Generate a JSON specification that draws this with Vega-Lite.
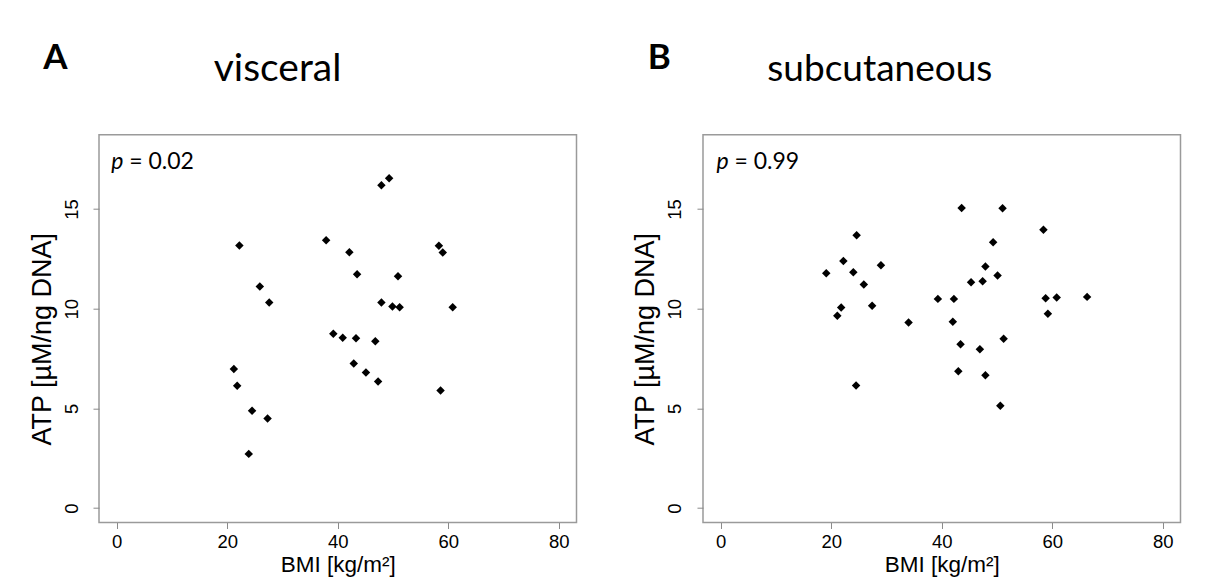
{
  "$schema": "https://vega.github.io/schema/vega-lite/v6.json",
  "autosize": {"type": "none"},
  "padding": {"left": 99, "top": 134.7, "right": 1116, "bottom": 452.3},
  "background": "white",
  "datasets": {
    "visceral": [
      {"bmi": 22.2, "atp": 13.16}, {"bmi": 25.9, "atp": 11.11}, {"bmi": 27.6, "atp": 10.31},
      {"bmi": 21.2, "atp": 6.97}, {"bmi": 21.8, "atp": 6.13}, {"bmi": 24.5, "atp": 4.88},
      {"bmi": 27.3, "atp": 4.49}, {"bmi": 23.9, "atp": 2.72}, {"bmi": 37.9, "atp": 13.43},
      {"bmi": 42.1, "atp": 12.83}, {"bmi": 43.5, "atp": 11.73}, {"bmi": 47.9, "atp": 16.19},
      {"bmi": 49.3, "atp": 16.54}, {"bmi": 50.9, "atp": 11.63}, {"bmi": 47.9, "atp": 10.31},
      {"bmi": 49.9, "atp": 10.11}, {"bmi": 51.2, "atp": 10.07}, {"bmi": 39.2, "atp": 8.74},
      {"bmi": 40.9, "atp": 8.54}, {"bmi": 43.3, "atp": 8.52}, {"bmi": 46.8, "atp": 8.37},
      {"bmi": 42.9, "atp": 7.25}, {"bmi": 45.1, "atp": 6.80}, {"bmi": 47.3, "atp": 6.35},
      {"bmi": 58.3, "atp": 13.15}, {"bmi": 59.0, "atp": 12.81}, {"bmi": 60.8, "atp": 10.07},
      {"bmi": 58.6, "atp": 5.90}
    ],
    "subcutaneous": [
      {"bmi": 19.1, "atp": 11.78}, {"bmi": 22.2, "atp": 12.39}, {"bmi": 24.0, "atp": 11.83},
      {"bmi": 24.6, "atp": 13.68}, {"bmi": 25.9, "atp": 11.21}, {"bmi": 29.0, "atp": 12.18},
      {"bmi": 21.8, "atp": 10.06}, {"bmi": 21.1, "atp": 9.65}, {"bmi": 27.4, "atp": 10.14},
      {"bmi": 24.5, "atp": 6.15}, {"bmi": 34.0, "atp": 9.30}, {"bmi": 39.3, "atp": 10.49},
      {"bmi": 42.2, "atp": 10.49}, {"bmi": 42.0, "atp": 9.34}, {"bmi": 43.6, "atp": 15.05},
      {"bmi": 51.0, "atp": 15.03}, {"bmi": 49.3, "atp": 13.33}, {"bmi": 47.9, "atp": 12.11},
      {"bmi": 45.3, "atp": 11.32}, {"bmi": 47.4, "atp": 11.37}, {"bmi": 50.1, "atp": 11.66},
      {"bmi": 43.4, "atp": 8.22}, {"bmi": 46.9, "atp": 7.97}, {"bmi": 51.2, "atp": 8.49},
      {"bmi": 43.0, "atp": 6.86}, {"bmi": 47.9, "atp": 6.66}, {"bmi": 50.6, "atp": 5.13},
      {"bmi": 58.4, "atp": 13.96}, {"bmi": 58.8, "atp": 10.52}, {"bmi": 60.8, "atp": 10.56},
      {"bmi": 59.2, "atp": 9.74}, {"bmi": 66.3, "atp": 10.59}
    ]
  },
  "spacing": 126,
  "bounds": "flush",
  "hconcat": [
    {
      "width": 477.5,
      "height": 387.8,
      "layer": [
        {
          "data": {"name": "visceral"},
          "mark": {"type": "point", "shape": "diamond", "filled": true, "color": "black", "opacity": 1, "size": 72},
          "encoding": {
            "x": {"field": "bmi", "type": "quantitative", "scale": {"domain": [-3.2, 83.2], "nice": false, "zero": false},
                  "axis": {"title": "BMI [kg/m²]", "values": [0, 20, 40, 60, 80]}},
            "y": {"field": "atp", "type": "quantitative", "scale": {"domain": [-0.72, 18.72], "nice": false, "zero": false},
                  "axis": {"title": "ATP [µM/ng DNA]", "values": [0, 5, 10, 15]}}
          }
        },
        {
          "data": {"values": [{}]},
          "mark": {"type": "text", "text": "p", "font": "Lato", "fontStyle": "italic", "fontSize": 23, "align": "left", "baseline": "alphabetic", "color": "black"},
          "encoding": {"x": {"datum": -1.0}, "y": {"datum": 17.0}}
        },
        {
          "data": {"values": [{}]},
          "mark": {"type": "text", "text": "= 0.02", "font": "Lato", "fontSize": 23, "align": "left", "baseline": "alphabetic", "dx": 18, "color": "black"},
          "encoding": {"x": {"datum": -1.0}, "y": {"datum": 17.0}}
        },
        {
          "data": {"values": [{}]},
          "mark": {"type": "text", "text": "A", "font": "Lato", "fontWeight": "bold", "fontSize": 35, "align": "left", "baseline": "alphabetic", "color": "black"},
          "encoding": {"x": {"datum": -13.3}, "y": {"datum": 22.0}}
        },
        {
          "data": {"values": [{}]},
          "mark": {"type": "text", "text": "visceral", "font": "Lato", "fontSize": 39, "align": "center", "baseline": "alphabetic", "color": "black"},
          "encoding": {"x": {"datum": 29.1}, "y": {"datum": 21.4}}
        }
      ]
    },
    {
      "width": 477.5,
      "height": 387.8,
      "layer": [
        {
          "data": {"name": "subcutaneous"},
          "mark": {"type": "point", "shape": "diamond", "filled": true, "color": "black", "opacity": 1, "size": 72},
          "encoding": {
            "x": {"field": "bmi", "type": "quantitative", "scale": {"domain": [-3.2, 83.2], "nice": false, "zero": false},
                  "axis": {"title": "BMI [kg/m²]", "values": [0, 20, 40, 60, 80]}},
            "y": {"field": "atp", "type": "quantitative", "scale": {"domain": [-0.72, 18.72], "nice": false, "zero": false},
                  "axis": {"title": "ATP [µM/ng DNA]", "values": [0, 5, 10, 15]}}
          }
        },
        {
          "data": {"values": [{}]},
          "mark": {"type": "text", "text": "p", "font": "Lato", "fontStyle": "italic", "fontSize": 23, "align": "left", "baseline": "alphabetic", "color": "black"},
          "encoding": {"x": {"datum": -0.75}, "y": {"datum": 17.0}}
        },
        {
          "data": {"values": [{}]},
          "mark": {"type": "text", "text": "= 0.99", "font": "Lato", "fontSize": 23, "align": "left", "baseline": "alphabetic", "dx": 18, "color": "black"},
          "encoding": {"x": {"datum": -0.75}, "y": {"datum": 17.0}}
        },
        {
          "data": {"values": [{}]},
          "mark": {"type": "text", "text": "B", "font": "Lato", "fontWeight": "bold", "fontSize": 35, "align": "left", "baseline": "alphabetic", "color": "black"},
          "encoding": {"x": {"datum": -13.2}, "y": {"datum": 22.0}}
        },
        {
          "data": {"values": [{}]},
          "mark": {"type": "text", "text": "subcutaneous", "font": "Lato", "fontSize": 37, "align": "center", "baseline": "alphabetic", "color": "black"},
          "encoding": {"x": {"datum": 28.8}, "y": {"datum": 21.4}}
        }
      ]
    }
  ],
  "config": {
    "font": "Liberation Sans",
    "view": {"stroke": "#9a9a9a", "strokeWidth": 1.5},
    "axis": {"grid": false, "domain": false, "tickColor": "#8a8a8a", "tickWidth": 1, "tickSize": 6,
             "labelFont": "Liberation Sans", "labelFontSize": 18.5, "labelColor": "black",
             "titleFont": "Liberation Sans", "titleFontSize": 22.5, "titleFontWeight": "normal", "titleColor": "black"},
    "axisX": {"labelPadding": 4, "titlePadding": 3},
    "axisY": {"labelAngle": -90, "labelAlign": "center", "labelBaseline": "alphabetic", "labelPadding": 16, "titlePadding": 6, "titleFontSize": 27, "titleY": 204}
  }
}
